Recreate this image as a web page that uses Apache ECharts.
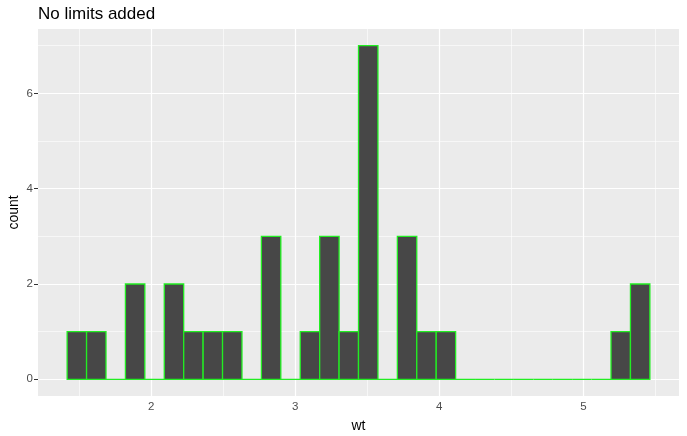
<!DOCTYPE html>
<html>
<head>
<meta charset="utf-8">
<script src="https://cdn.jsdelivr.net/npm/echarts@6/dist/echarts.min.js"></script>
<style>html,body{margin:0;padding:0;background:#fff}#c{width:687px;height:436px}</style>
</head>
<body>
<div id="c"></div>
<script>
// Histogram bins of wt (30 bins)
const binStart = 1.41603;
const binWidth = 0.134862;
const counts = [1,1,0,2,0,2,1,1,1,0,3,0,1,3,1,7,0,3,1,1,0,0,0,0,0,0,0,0,1,2];
const xTicks = [2,3,4,5];
const xMinor = [1.5,2.5,3.5,4.5,5.5];
const yTicks = [0,2,4,6];
const yMinor = [1,3,5,7];
const xRange = [1.2137, 5.6641];
const yRange = [-0.35, 7.35];

const binData = counts.map((c,i)=>[binStart+i*binWidth, binStart+(i+1)*binWidth, c]);

const chart = echarts.init(document.getElementById('c'), null, {renderer:'canvas'});

function gridLines(vals, axisKey, width){
  return vals.map(v=>({[axisKey]: v, lineStyle:{color:'#ffffff', width: width, type:'solid'}}));
}

chart.setOption({
  animation:false,
  title:{text:'No limits added', left:38, top:6, padding:0, textStyle:{fontFamily:'Liberation Sans, Arial', fontSize:17, fontWeight:'normal', color:'#000'}},
  grid:{left:38, right:8, top:29, bottom:40, show:true, backgroundColor:'#EBEBEB', borderWidth:0, outerBoundsMode:'none', containLabel:false},
  xAxis:{type:'value', min:xRange[0], max:xRange[1],
    name:'wt', nameLocation:'middle', nameGap:23,
    nameTextStyle:{fontFamily:'Liberation Sans, Arial', fontSize:14, color:'#000'},
    axisLine:{show:false},
    axisTick:{show:true, customValues:xTicks, length:4, lineStyle:{color:'#333', width:1}},
    axisLabel:{customValues:xTicks, color:'#4D4D4D', fontSize:11.5, fontFamily:'Liberation Sans, Arial', margin:5},
    splitLine:{show:false}},
  yAxis:{type:'value', min:yRange[0], max:yRange[1],
    name:'count', nameLocation:'middle', nameGap:17, nameMoveOverlap:false,
    nameTextStyle:{fontFamily:'Liberation Sans, Arial', fontSize:14, color:'#000'},
    axisLine:{show:false},
    axisTick:{show:true, customValues:yTicks, length:4, lineStyle:{color:'#333', width:1}},
    axisLabel:{customValues:yTicks, color:'#4D4D4D', fontSize:11.5, fontFamily:'Liberation Sans, Arial', margin:5},
    splitLine:{show:false}},
  series:[
    {type:'line', data:[], z:1, silent:true,
     markLine:{silent:true, symbol:'none', label:{show:false}, animation:false,
       data:[].concat(gridLines(xMinor,'xAxis',0.6), gridLines(yMinor,'yAxis',0.6),
                      gridLines(xTicks,'xAxis',1.2), gridLines(yTicks,'yAxis',1.2))}},
    {type:'custom', z:5, data:binData, silent:true,
     renderItem:function(params, api){
       const p0 = api.coord([api.value(0), api.value(2)]);
       const p1 = api.coord([api.value(1), 0]);
       return {type:'rect',
         shape:{x:p0[0], y:p0[1], width:p1[0]-p0[0], height:p1[1]-p0[1]},
         style:{fill:'#474747', stroke:'#22EE22', lineWidth:1.3}};
     }}
  ]
});
</script>
</body>
</html>
